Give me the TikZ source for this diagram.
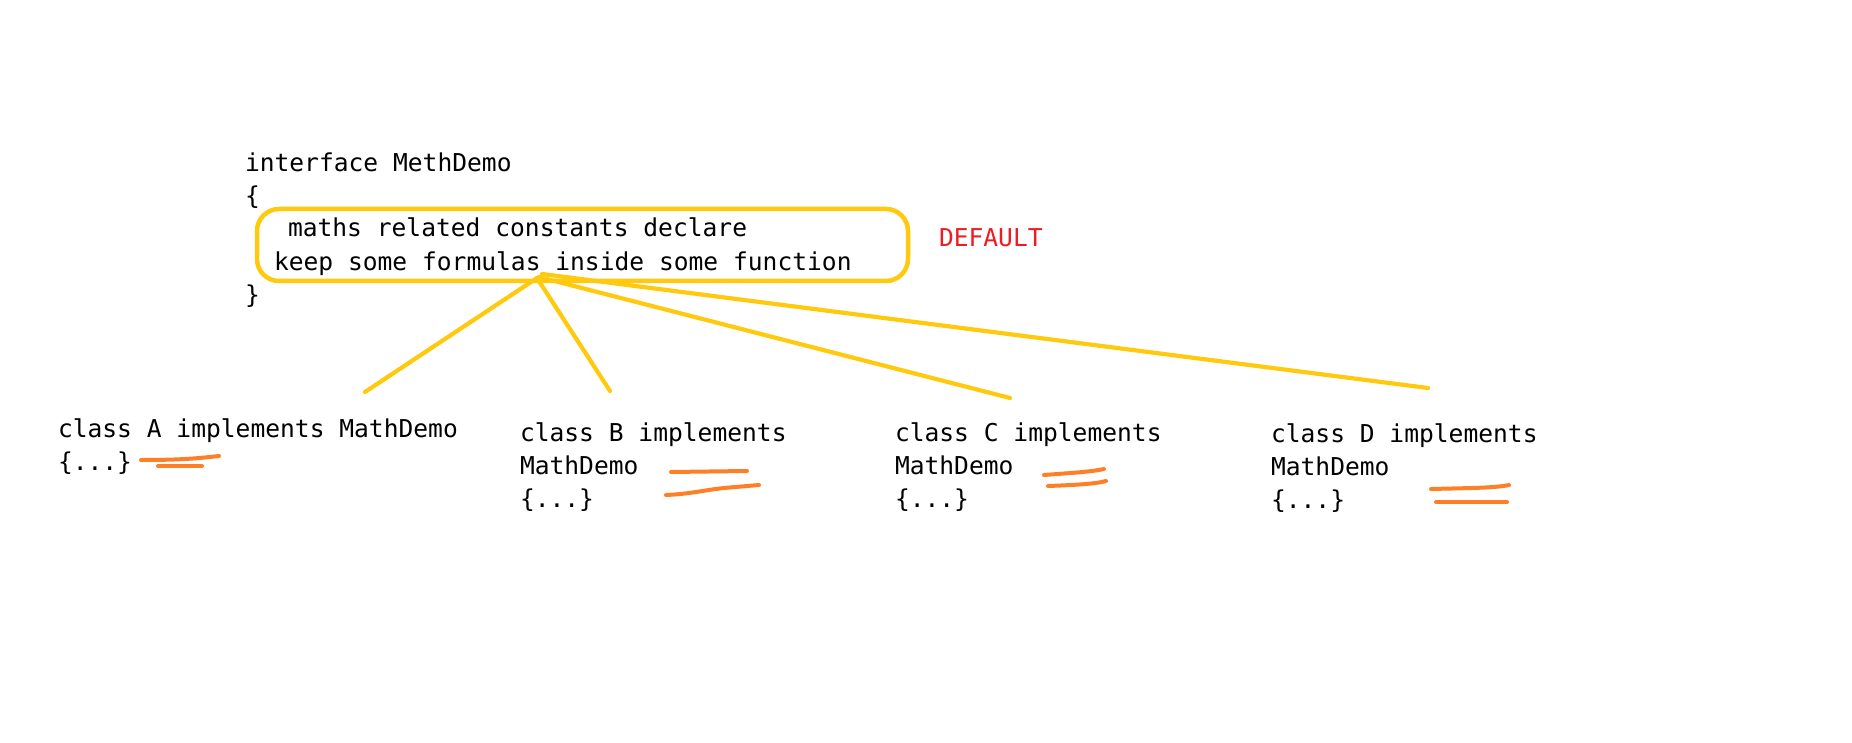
\documentclass[tikz,border=0pt]{standalone}
\usepackage{fontspec}
\newfontfamily\codefont{DejaVu Sans Mono}
\definecolor{hlyellow}{HTML}{FFC90E}
\definecolor{hlorange}{HTML}{FF7F27}
\definecolor{defred}{HTML}{ED1C24}
\tikzset{
  code/.style={anchor=base west, inner sep=0pt, outer sep=0pt, font=\codefont\fontsize{24.6pt}{33pt}\selectfont, text=black},
  tag/.style={code, text=defred},
  frame/.style={draw=hlyellow, line width=4.5pt, rounded corners=22pt, inner sep=0pt},
  link/.style={draw=hlyellow, line width=4.2pt, line cap=round},
  scribble/.style={draw=hlorange, line width=4pt, line cap=round}
}
\begin{document}
\begin{tikzpicture}[x=1pt, y=-1pt]
\useasboundingbox (0,0) rectangle (1852,743);
% interface block
\node[code] (iface) at (245,172) {interface MethDemo};
\node[code] (obrace) at (245,205) {\{};
\node[frame, minimum width=651pt, minimum height=72pt] (box) at (582.5,245) {};
\node[code] (l1) at (288,237) {maths related constants declare};
\node[code] (l2) at (274,271) {keep some formulas inside some function};
\node[code] (cbrace) at (245,304) {\}};
\node[tag] (def) at (939,247) {DEFAULT};
% classes
\node[code] (a1) at (58,437) {class A implements MathDemo};
\node[code] (a2) at (58,470) {\{...\}};
\node[code] (b1) at (520,441) {class B implements};
\node[code] (b2) at (520,474) {MathDemo};
\node[code] (b3) at (520,507) {\{...\}};
\node[code] (c1) at (895,441) {class C implements};
\node[code] (c2) at (895,474) {MathDemo};
\node[code] (c3) at (895,507) {\{...\}};
\node[code] (d1) at (1271,442) {class D implements};
\node[code] (d2) at (1271,475) {MathDemo};
\node[code] (d3) at (1271,508) {\{...\}};
% connector end points
\coordinate (hubA) at (537,278);
\coordinate (hubB) at (537,278);
\coordinate (hubC) at (539,277);
\coordinate (hubD) at (542,274);
\coordinate (endA) at (365,392);
\coordinate (endB) at (610,391);
\coordinate (endC) at (1010,398);
\coordinate (endD) at (1428,388);
\draw[link] (hubA) -- (endA);
\draw[link] (hubB) -- (endB);
\draw[link] (hubC) -- (endC);
\draw[link] (hubD) -- (endD);
% orange underline scribbles
\draw[scribble] (141,460) .. controls (185,460) and (200,458) .. (219,456);
\draw[scribble] (158,466) -- (202,466);
\draw[scribble] (671,472) -- (747,471);
\draw[scribble] (666,495) .. controls (690,494) and (705,490) .. (724,488) -- (759,485);
\draw[scribble] (1044,475) .. controls (1070,473) and (1090,472) .. (1104,469);
\draw[scribble] (1048,486) .. controls (1075,485) and (1095,484) .. (1106,481);
\draw[scribble] (1431,489) .. controls (1470,488) and (1495,488) .. (1509,485);
\draw[scribble] (1436,502) -- (1507,502);
\end{tikzpicture}
\end{document}
